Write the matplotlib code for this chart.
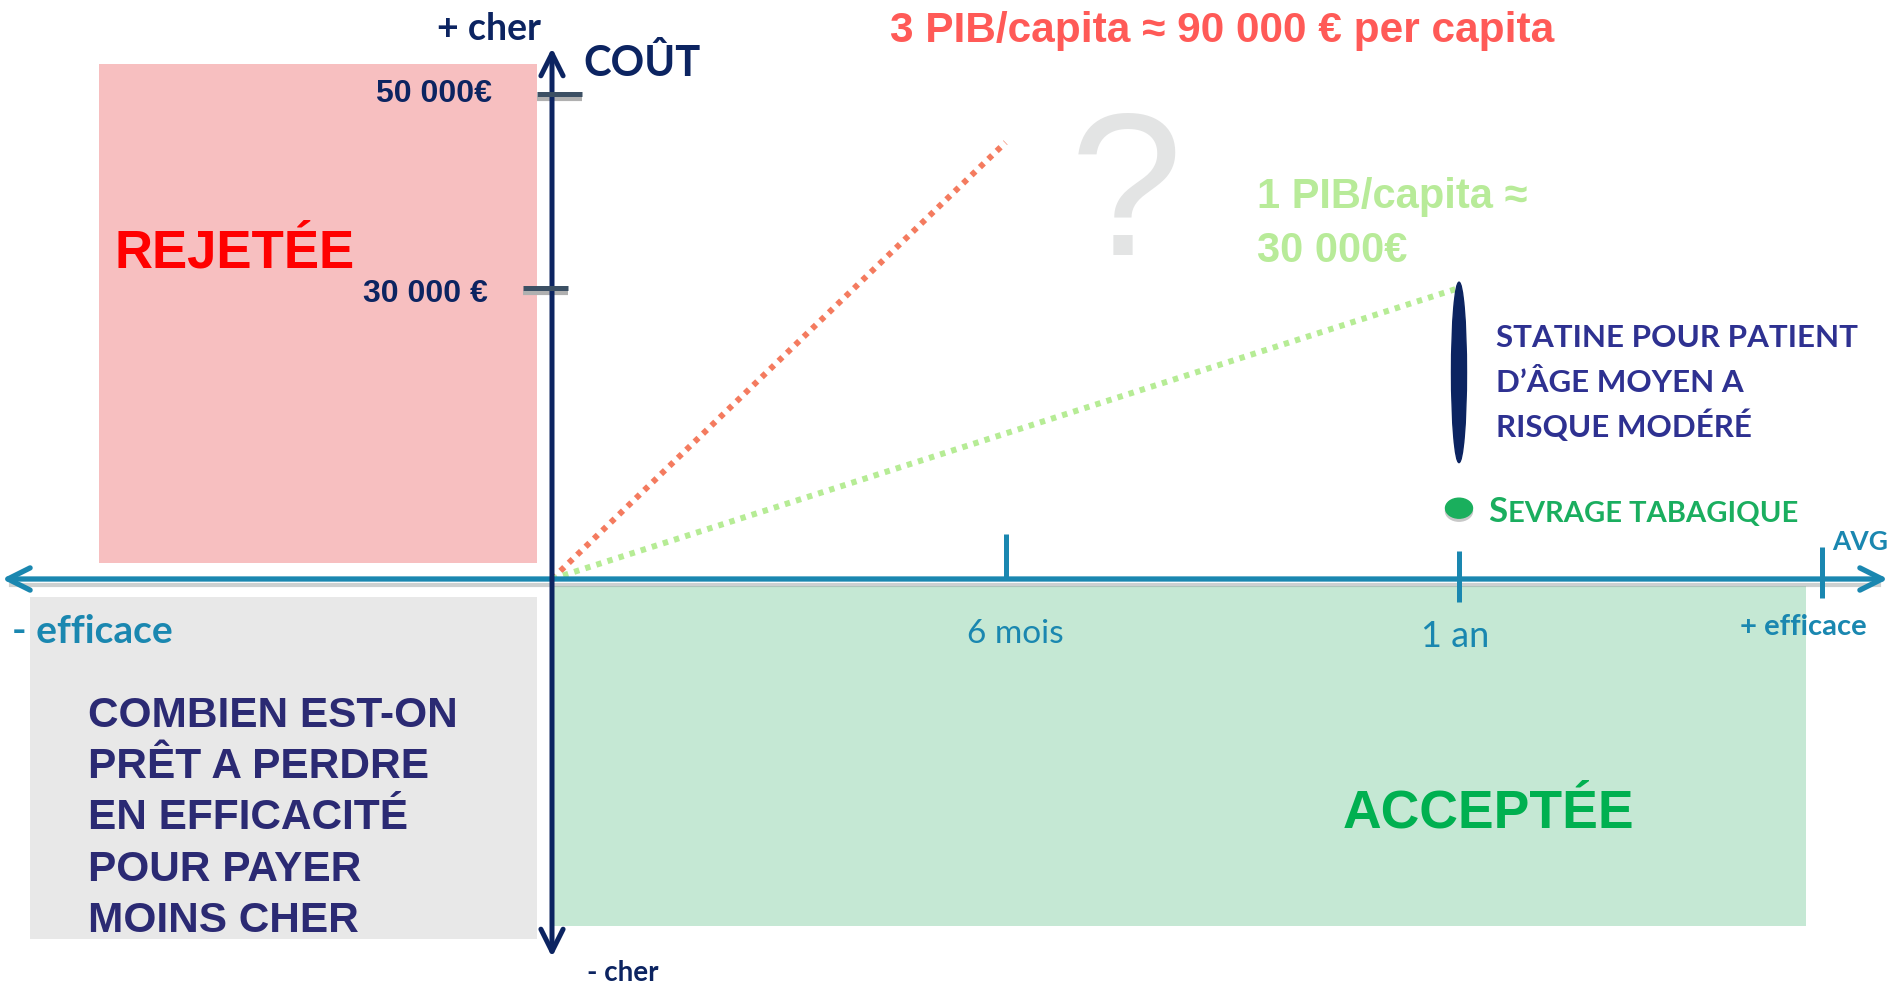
import matplotlib
matplotlib.use('Agg')
import matplotlib.pyplot as plt
import matplotlib.transforms as mtransforms
from matplotlib.patches import Rectangle, Ellipse

W, H = 1893, 983

# Données (x en années de vie gagnées, y en euros)
mois_ticks = [0.5, 1.0]
mois_labels = ['6 mois', '1 an']
avg_tick = 1.4
cout_ticks = [30000, 50000]
cout_labels = ['30 000 €', '50 000€']
pib_capita = 30000
seuils_mult = [3, 1]
seuils_fin = [0.5, 1.0]
seuils_couleurs = ['#f47b5f', '#b6ec95']
statine_avg = 1.0
statine_cout = [12000, 30600]
sevrage_avg = 1.0
sevrage_cout = 7300

# échelle : pixels par année et par euro, origine en pixels
PX_AN = 907
PX_EUR = 0.0097
OX, OY = 552, 579

NAVY = '#0c2461'
TEAL = '#1a87b0'
ARIAL = 'Liberation Sans'
CALIBRI = 'Lato'

fig = plt.figure(figsize=(W / 100, H / 100), dpi=100)
ax = fig.add_axes([0, 0, 1, 1])
ax.set_xlim(-OX / PX_AN, (W - OX) / PX_AN)
ax.set_ylim((OY - H) / PX_EUR, OY / PX_EUR)
ax.axis('off')

# repère en pixels (origine en haut à gauche) pour la mise en page
pix = mtransforms.Affine2D().scale(1, -1).translate(0, H)


def zone(x0, y0, x1, y1, couleur):
    ax.add_patch(Rectangle((x0, y0), x1 - x0, y1 - y0, transform=pix,
                           facecolor=couleur, edgecolor='none', zorder=0))


zone(99, 64, 537, 563, '#f7bfc0')
zone(30, 597, 537, 939, '#e8e8e8')
zone(554, 586, 1806, 926, '#c5e8d4')

# seuils coût / efficacité
for m, fin, c in zip(seuils_mult, seuils_fin, seuils_couleurs):
    ax.plot([0, fin], [0, m * pib_capita * fin], color=c, lw=4.3,
            linestyle=(0, (0.9, 1.05)), dash_capstyle='butt', zorder=2)

# axes avec flèches
x_min, x_max = (2 - OX) / PX_AN, (1888 - OX) / PX_AN
y_min, y_max = (OY - 957) / PX_EUR, (OY - 48) / PX_EUR
ax.plot([x_min + 0.01, x_max - 0.01], [-600, -600], color='#9aa3a3', lw=3,
        alpha=0.5, zorder=1)
ax.annotate('', xy=(x_max, 0), xytext=(x_min, 0),
            arrowprops=dict(arrowstyle='<->', lw=3.8, color=TEAL,
                            mutation_scale=40, shrinkA=0, shrinkB=0),
            zorder=3)
ax.annotate('', xy=(0, y_max), xytext=(0, y_min),
            arrowprops=dict(arrowstyle='<->', lw=3.6, color=NAVY,
                            mutation_scale=40, shrinkA=0, shrinkB=0),
            zorder=4)

# graduations efficacité
ax.vlines(mois_ticks[0], 0, 4640, color=TEAL, lw=3.6, zorder=3)
ax.vlines(mois_ticks[1], -2370, 2890, color=TEAL, lw=3.6, zorder=3)
ax.vlines(avg_tick, -1960, 3300, color=TEAL, lw=3.6, zorder=3)
ax.annotate(mois_labels[0], xy=(mois_ticks[0], 0), xytext=(10, -64),
            textcoords='offset pixels', ha='center', va='baseline',
            fontsize=24, color=TEAL, family=CALIBRI)
ax.annotate(mois_labels[1], xy=(mois_ticks[1], 0), xytext=(-4, -68),
            textcoords='offset pixels', ha='center', va='baseline',
            fontsize=26, color=TEAL, family=CALIBRI)

# graduations coût
tick_x = [(-29 / PX_AN, 16 / PX_AN), (-15 / PX_AN, 30 / PX_AN)]
label_dy = [-14, -8]
label_dx = [-64, -60]
for v, lab, (a, b), dy, dx in zip(cout_ticks, cout_labels, tick_x, label_dy, label_dx):
    ax.hlines(v - 500, a, b, color='#b0b0b0', lw=3, zorder=3)
    ax.hlines(v, a, b, color='#3c5064', lw=3.6, zorder=5)
    ax.annotate(lab, xy=(0, v), xytext=(dx, dy), textcoords='offset pixels',
                ha='right', va='baseline', fontsize=23, fontweight='bold',
                color=NAVY, family=ARIAL)

# interventions
ax.add_patch(Ellipse((statine_avg, sum(statine_cout) / 2), 15 / PX_AN,
                     statine_cout[1] - statine_cout[0], color=NAVY, zorder=5))
ax.add_patch(Ellipse((sevrage_avg, sevrage_cout - 3 / PX_EUR), 27 / PX_AN,
                     20 / PX_EUR, color='#c8c8c8', zorder=4))
ax.add_patch(Ellipse((sevrage_avg, sevrage_cout), 27 / PX_AN, 20 / PX_EUR,
                     color='#1aaf5d', zorder=5))


def txt(x, y, s, size, color, family=CALIBRI, weight='bold', ha='left'):
    return ax.text(x, y, s, transform=pix, fontsize=size, color=color,
                   family=family, fontweight=weight, ha=ha, va='baseline',
                   zorder=6)


txt(541, 40, '+ cher', 27, NAVY, ha='right')
txt(583, 76, 'COÛT', 30, NAVY)
txt(587, 981, '- cher', 20, NAVY)
txt(12, 643, '- efficace', 28, TEAL)
txt(1867, 635, '+ efficace', 21, TEAL, ha='right')
txt(1832, 550, 'AVG', 19, TEAL)

txt(114, 267, 'REJETÉE', 38, '#ff0000', family=ARIAL)
txt(1343, 828, 'ACCEPTÉE', 38.5, '#00b050', family=ARIAL)
txt(890, 42, '3 PIB/capita ≈ 90 000 € per capita', 30.5, '#ff5a57', family=ARIAL)
txt(1257, 208, '1 PIB/capita ≈', 30, '#b8eb99', family=ARIAL)
txt(1257, 262, '30 000€', 30, '#b8eb99', family=ARIAL)
txt(1126, 255, '?', 146, '#e3e4e4', family=ARIAL, weight='normal', ha='center')

combien = ['COMBIEN EST-ON', 'PRÊT A PERDRE', 'EN EFFICACITÉ',
           'POUR PAYER', 'MOINS CHER']
for i, ligne in enumerate(combien):
    txt(88, 727 + i * 51.2, ligne, 30.5, '#2b2a73', family=ARIAL)

statine = ['STATINE POUR PATIENT', 'D’ÂGE MOYEN A', 'RISQUE MODÉRÉ']
for i, ligne in enumerate(statine):
    txt(1496, 347 + i * 45, ligne, 22.6, '#2e3191')

s = txt(1488, 522, 'S', 25, '#1aae5f')
fig.canvas.draw()
bb = s.get_window_extent()
txt(bb.x1 + 1, 522, 'EVRAGE TABAGIQUE', 21, '#1aae5f')

fig.savefig('out.png', dpi=100)
